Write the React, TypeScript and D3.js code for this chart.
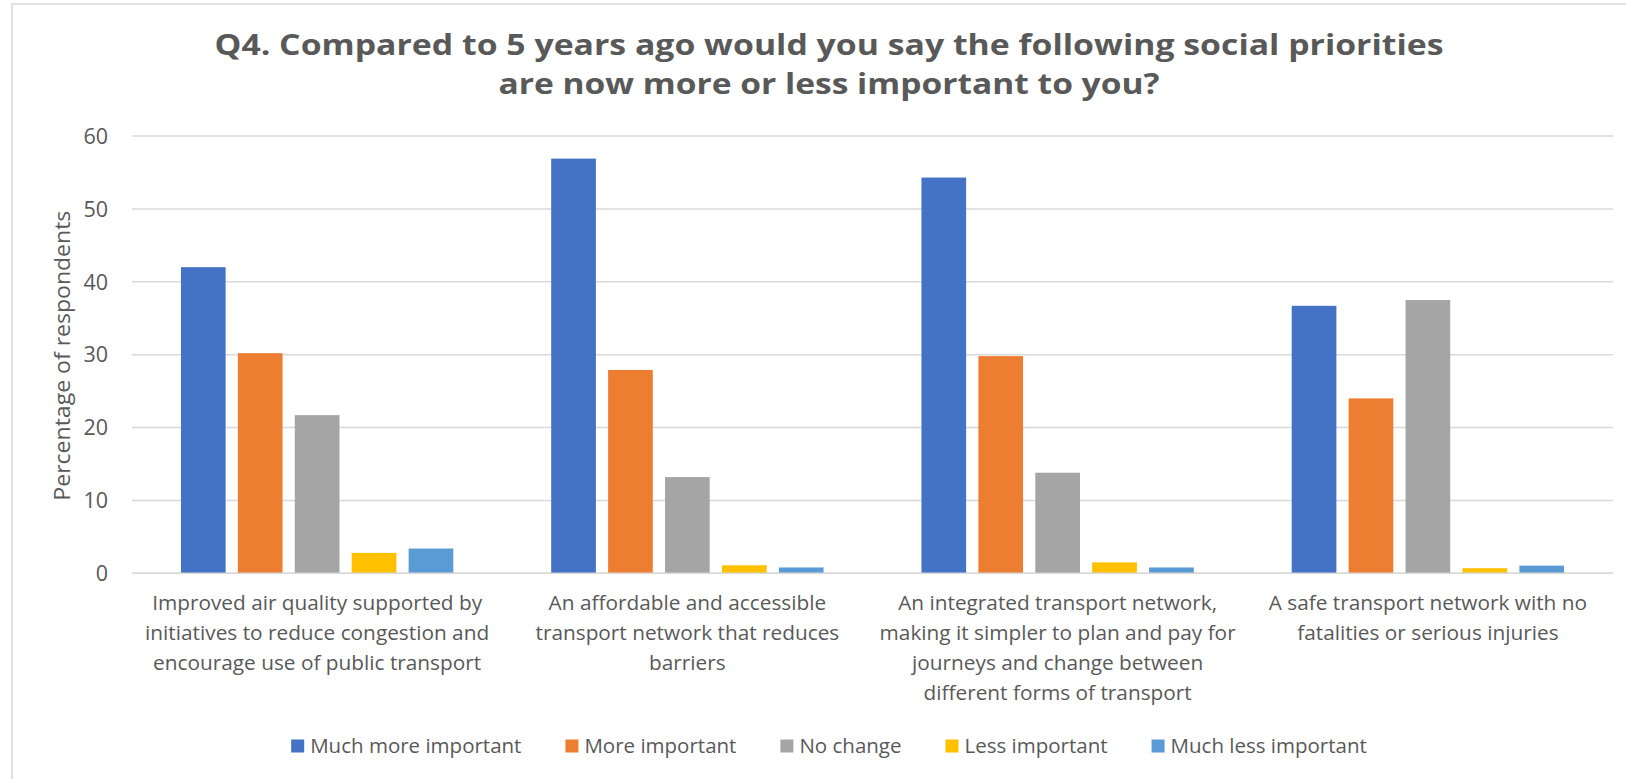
import React, { useEffect, useRef } from "react";
import * as d3 from "d3";

const titleLines = [
  "Q4. Compared to 5 years ago would you say the following social priorities",
  "are now more or less important to you?",
];
const yAxisTitle = "Percentage of respondents";
const categories = ["air", "affordable", "integrated", "safe"];
const categoryLabels = [
  ["Improved air quality supported by", "initiatives to reduce congestion and", "encourage use of public transport"],
  ["An affordable and accessible", "transport network that reduces", "barriers"],
  ["An integrated transport network,", "making it simpler to plan and pay for", "journeys and change between", "different forms of transport"],
  ["A safe transport network with no", "fatalities or serious injuries"],
];
const seriesNames = ["Much more important", "More important", "No change", "Less important", "Much less important"];
const seriesColors = ["#4472C4", "#ED7D31", "#A5A5A5", "#FFC000", "#5B9BD5"];
const muchMore = [42.0, 56.9, 54.3, 36.7];
const more = [30.2, 27.9, 29.8, 24.0];
const noChange = [21.7, 13.2, 13.8, 37.5];
const less = [2.8, 1.1, 1.5, 0.7];
const muchLess = [3.4, 0.8, 0.8, 1.05];
const yTicks = [0, 10, 20, 30, 40, 50, 60];

const W = 1626;
const H = 779;

export default function App() {
  const ref = useRef<SVGSVGElement>(null);
  useEffect(() => {
    const svg = d3.select(ref.current);
    svg.selectAll("*").remove();
    const font = "'Open Sans', sans-serif";
    const textColor = "#595959";
    const grid = "#d9d9d9";

    // outer border
    svg.append("rect").attr("x", 12).attr("y", 4).attr("width", 1700).attr("height", 900)
      .attr("fill", "white").attr("stroke", grid).attr("stroke-width", 1.5);

    const centerX = 829;
    // title
    const titleWidths = [1229, 661];
    const titleY = [55, 94];
    titleLines.forEach((t, i) => {
      svg.append("text").attr("x", centerX).attr("y", titleY[i]).attr("text-anchor", "middle")
        .attr("font-family", font).attr("font-weight", 700).attr("font-size", 28)
        .attr("fill", textColor).attr("textLength", titleWidths[i]).attr("lengthAdjust", "spacingAndGlyphs")
        .text(t);
    });

    const left = 132, right = 1613, top = 136, bottom = 573.3;
    const y = d3.scaleLinear().domain([0, 60]).range([bottom, top]);
    const x0 = d3.scaleBand<string>().domain(categories).range([left, right]).paddingInner(0).paddingOuter(0);
    const x1 = d3.scaleBand<string>().domain(seriesNames).range([0, x0.bandwidth()]).paddingInner(0.215).paddingOuter(0.86);

    // gridlines
    svg.append("g").selectAll("line").data(yTicks).join("line")
      .attr("x1", left).attr("x2", right).attr("y1", (d) => y(d)).attr("y2", (d) => y(d))
      .attr("stroke", grid).attr("stroke-width", 1.5);

    // y tick labels
    svg.append("g").selectAll("text").data(yTicks).join("text")
      .attr("x", 108).attr("y", (d) => y(d)).attr("dy", "0.36em").attr("text-anchor", "end")
      .attr("font-family", font).attr("font-size", 21.5).attr("fill", textColor).text((d) => d);

    // y axis title
    svg.append("text").attr("transform", `translate(70,${(top + bottom) / 2 + 1}) rotate(-90)`)
      .attr("text-anchor", "middle").attr("font-family", font).attr("font-size", 22).attr("fill", textColor)
      .attr("textLength", 290).attr("lengthAdjust", "spacingAndGlyphs")
      .text(yAxisTitle);

    const seriesValues = [muchMore, more, noChange, less, muchLess];
    const rows = categories.flatMap((c, ci) =>
      seriesNames.map((s, si) => ({ c, s, si, v: seriesValues[si][ci] }))
    );
    svg.append("g").selectAll("rect").data(rows).join("rect")
      .attr("x", (d) => (x0(d.c) as number) + (x1(d.s) as number))
      .attr("width", x1.bandwidth())
      .attr("y", (d) => y(d.v))
      .attr("height", (d) => y(0) - y(d.v))
      .attr("fill", (d) => seriesColors[d.si]);

    // baseline
    svg.append("line").attr("x1", left).attr("x2", right).attr("y1", y(0)).attr("y2", y(0))
      .attr("stroke", grid).attr("stroke-width", 1.5);

    // category labels
    categories.forEach((c, ci) => {
      const cx = (x0(c) as number) + x0.bandwidth() / 2;
      categoryLabels[ci].forEach((line, li) => {
        svg.append("text").attr("x", cx).attr("y", 610 + li * 30).attr("text-anchor", "middle")
          .attr("font-family", font).attr("font-size", 20.8).attr("fill", textColor).text(line);
      });
    });

    // legend
    const lg = svg.append("g");
    let cursor = 0;
    const items: { g: any; w: number }[] = [];
    seriesNames.forEach((s, i) => {
      const g = lg.append("g");
      g.append("rect").attr("x", 0).attr("y", -6.5).attr("width", 13).attr("height", 13).attr("fill", seriesColors[i]);
      const t = g.append("text").attr("x", 19).attr("y", 0).attr("dy", "0.35em")
        .attr("font-family", font).attr("font-size", 20.5).attr("fill", textColor).text(s);
      const tw = (t.node() as SVGTextElement).getComputedTextLength();
      items.push({ g, w: 19 + tw });
    });
    const gap = 44;
    const total = items.reduce((a, b) => a + b.w, 0) + gap * (items.length - 1);
    cursor = centerX - total / 2;
    items.forEach((it) => {
      it.g.attr("transform", `translate(${cursor},746)`);
      cursor += it.w + gap;
    });
  }, []);
  return (
    <div style={{ position: "absolute", left: 0, top: 0 }}>
      <svg ref={ref} width={W} height={H} style={{ display: "block" }} />
    </div>
  );
}
